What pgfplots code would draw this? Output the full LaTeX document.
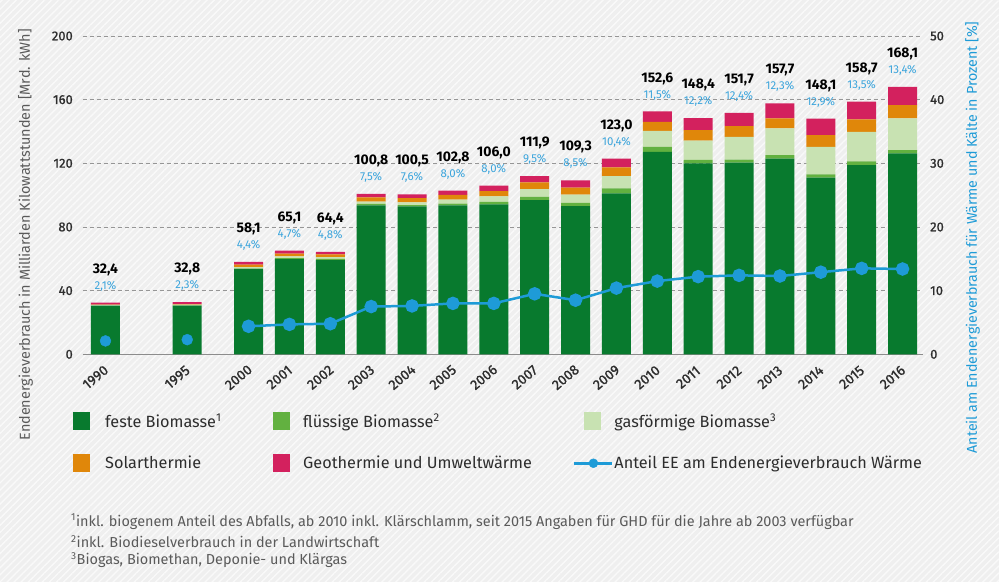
\documentclass[border=0pt]{standalone}
\usepackage{pgfplots}
\pgfplotsset{compat=1.18}
\usepackage{pgfplotstable}
\usetikzlibrary{patterns.meta}
\usepackage{fontspec}
\setmainfont{Fira Sans}
\newfontfamily\medfont[FakeBold=1.2]{Fira Sans}
\definecolor{cFeste}{RGB}{8,122,46}
\definecolor{cFl}{RGB}{98,177,64}
\definecolor{cGas}{RGB}{200,226,178}
\definecolor{cSolar}{RGB}{224,135,10}
\definecolor{cGeo}{RGB}{211,33,94}
\definecolor{cBlue}{RGB}{30,155,215}
\definecolor{cPct}{RGB}{60,165,220}
\definecolor{cBg}{RGB}{239,239,239}
\definecolor{cStripe}{RGB}{249,249,249}
\definecolor{cTxt}{RGB}{45,45,45}
\definecolor{cGrey}{RGB}{90,90,90}

\pgfplotstableread{
x     feste  fl   gas   solar  geo   tot    pct
0     30.6   0.0  0.5   0.1    1.2   32.4   2.1
2     30.6   0.1  0.5   0.3    1.3   32.8   2.3
3.5   53.6   0.3  0.8   1.6    1.8   58.1   4.4
4.5   59.8   0.7  1.0   1.7    1.9   65.1   4.7
5.5   59.1   0.9  1.1   1.7    1.6   64.4   4.8
6.5   93.6   0.9  1.5   2.6    2.2   100.8  7.5
7.5   92.9   0.9  1.7   2.7    2.3   100.5  7.6
8.5   93.6   1.1  2.5   3.0    2.6   102.8  8.0
9.5   94.2   1.5  3.6   3.3    3.4   106.0  8.0
10.5  96.8   2.1  4.9   4.2    3.9   111.9  9.5
11.5  93.1   2.1  5.2   4.4    4.5   109.3  8.5
12.5  101.1  3.2  7.7   5.5    5.5   123.0  10.4
13.5  127.2  3.1  10.1  5.7    6.5   152.6  11.5
14.5  120.0  2.1  12.1  6.7    7.5   148.4  12.2
15.5  120.5  1.9  14.2  6.7    8.4   151.7  12.4
16.5  123.0  2.1  16.8  6.3    9.5   157.7  12.3
17.5  111.0  2.0  17.3  7.4    10.4  148.1  12.9
18.5  118.9  2.3  18.5  7.9    11.1  158.7  13.5
19.5  126.3  2.0  20.0  8.3    11.5  168.1  13.4
}\datatable

\pgfplotsset{
  common/.style={
    scale only axis, width=840bp, height=318.3bp,
    at={(0,0)}, anchor=south west,
    xmin=-0.55, xmax=20,
  },
  sqimg/.style={legend image code/.code={
      \fill[##1] (0bp,-9bp) rectangle (17bp,9bp);
      \path[draw=none, fill=none] (0bp,-10bp) rectangle (32bp,10bp);}},
  sqimgB/.style={legend image code/.code={
      \fill[##1] (0bp,-9bp) rectangle (17bp,9bp);
      \path[draw=none, fill=none] (0bp,-10bp) rectangle (30bp,10bp);}},
  sqimgC/.style={legend image code/.code={
      \fill[##1] (10bp,-9bp) rectangle (27bp,9bp);
      \path[draw=none, fill=none] (0bp,-10bp) rectangle (40bp,10bp);}},
}

\begin{document}
\begin{tikzpicture}
\fill[cBg] (-83bp,-227.7bp) rectangle (916bp,354.3bp);
\fill[pattern={Lines[angle=45, distance=5bp, line width=1.4bp]}, pattern color=cStripe]
  (-83bp,-227.7bp) rectangle (916bp,354.3bp);

% stacked bars (left axis)
\begin{axis}[
  common,
  ymin=0, ymax=200,
  ybar stacked, bar width=0.71,
  axis x line*=bottom, axis y line*=left,
  x axis line style={draw={rgb,255:red,140;green,140;blue,140}, line width=1.5bp},
  y axis line style={draw=none},
  major tick length=0pt,
  xtick={0,2,3.5,4.5,...,19.5},
  xticklabels={1990,1995,2000,2001,2002,2003,2004,2005,2006,2007,2008,2009,2010,2011,2012,2013,2014,2015,2016},
  xticklabel style={xshift=-10bp, yshift=-23bp, rotate=40, anchor=center, font=\medfont\fontsize{14}{14}\selectfont, text=cTxt, inner sep=0pt},
  ytick={0,40,...,200},
  yticklabel style={font=\medfont\fontsize{13}{13}\selectfont, text=cTxt, inner sep=0pt, xshift=-10bp},
  /pgf/number format/assume math mode=true,
  ymajorgrids,
  grid style={dashed, dash pattern=on 4bp off 3bp, draw={rgb,255:red,150;green,150;blue,150}, line width=0.8bp},
  ylabel={Endenergieverbrauch in Milliarden Kilowattstunden [Mrd. kWh]},
  ylabel style={at={(axis description cs:-0.0685,0.375)}, anchor=center, font=\fontsize{14.5}{14.5}\selectfont, text=cGrey},
  legend columns=3,
  legend cell align=left,
  legend style={at={(-0.0119,-0.1783)}, anchor=north west, draw=none, fill=none, inner sep=0pt, column sep=0pt, row sep=22bp,
    font=\fontsize{16.3}{16.3}\selectfont, text=cTxt, nodes={inner sep=0pt}},
]
\addplot[fill=cFeste, draw=none, sqimg] table[x=x, y=feste] {\datatable};
\addlegendentry{\makebox[168bp][l]{feste Biomasse\textsuperscript{1}}}
\addplot[fill=cFl, draw=none, sqimgB] table[x=x, y=fl] {\datatable};
\addlegendentry{\makebox[270bp][l]{flüssige Biomasse\textsuperscript{2}}}
\addplot[fill=cGas, draw=none, sqimgC] table[x=x, y=gas] {\datatable};
\addlegendentry{gasförmige Biomasse\textsuperscript{3}}
\addplot[fill=cSolar, draw=none, sqimg] table[x=x, y=solar] {\datatable};
\addlegendentry{\makebox[168bp][l]{Solarthermie}}
\addplot[fill=cGeo, draw=none, sqimgB] table[x=x, y=geo] {\datatable};
\addlegendentry{\makebox[270bp][l]{Geothermie und Umweltwärme}}
\addlegendimage{legend image code/.code={
   \draw[cBlue, line width=2.5bp] (0bp,0bp) -- (38bp,0bp);
   \fill[cBlue] (19bp,0bp) circle (4.5bp);
   \path[draw=none, fill=none] (0bp,-10bp) rectangle (40bp,10bp);}}
\addlegendentry{Anteil EE am Endenergieverbrauch Wärme}
\end{axis}

% labels above bars
\begin{axis}[
  common, ymin=0, ymax=200, hide axis, clip=false,
  /pgf/number format/assume math mode=true,
]
\addplot[only marks, mark=none, point meta=\thisrow{tot},
  nodes near coords={\pgfmathprintnumber[fixed, fixed zerofill, precision=1, use comma, assume math mode=true]{\pgfplotspointmeta}},
  every node near coord/.style={anchor=center, yshift=33bp, font=\bfseries\fontsize{14}{14}\selectfont, text=black, inner sep=0pt}]
  table[x=x, y=tot] {\datatable};
\addplot[only marks, mark=none, point meta=\thisrow{pct},
  nodes near coords={\pgfmathprintnumber[fixed, fixed zerofill, precision=1, use comma, assume math mode=true]{\pgfplotspointmeta}\%},
  every node near coord/.style={anchor=center, yshift=16.5bp, font=\fontsize{11.5}{11.5}\selectfont, text=cPct, inner sep=0pt}]
  table[x=x, y=tot] {\datatable};
\end{axis}

% percent line (right axis)
\begin{axis}[
  common, ymin=0, ymax=50,
  axis x line=none, axis y line*=right,
  y axis line style={draw=none},
  major tick length=0pt,
  ytick={0,10,...,50},
  yticklabel style={font=\medfont\fontsize{13}{13}\selectfont, text=cTxt, inner sep=0pt, xshift=7bp},
  /pgf/number format/assume math mode=true,
  ylabel={Anteil am Endenergieverbrauch für Wärme und Kälte in Prozent [\%]},
  ylabel style={at={(axis description cs:1.0589,0.367)}, anchor=center, rotate=0, font=\fontsize{14.3}{14.3}\selectfont, text=cBlue},
]
\addplot[only marks, mark=*, mark size=5.5bp, color=cBlue, skip coords between index={2}{19}]
  table[x=x, y=pct] {\datatable};
\addplot[cBlue, line width=2.5bp, mark=*, mark size=5.5bp, skip coords between index={0}{2}]
  table[x=x, y=pct] {\datatable};
\end{axis}

% footnotes
\node[anchor=west, inner sep=0pt, font=\fontsize{14.5}{14.5}\selectfont, text=cGrey] at (-12bp,-167.4bp)
  {\textsuperscript{1}inkl. biogenem Anteil des Abfalls, ab 2010 inkl. Klärschlamm, seit 2015 Angaben für GHD für die Jahre ab 2003 verfügbar};
\node[anchor=west, inner sep=0pt, font=\fontsize{14.5}{14.5}\selectfont, text=cGrey] at (-12bp,-187.4bp)
  {\textsuperscript{2}inkl. Biodieselverbrauch in der Landwirtschaft};
\node[anchor=west, inner sep=0pt, font=\fontsize{14.5}{14.5}\selectfont, text=cGrey] at (-12bp,-205.7bp)
  {\textsuperscript{3}Biogas, Biomethan, Deponie- und Klärgas};

\pgfresetboundingbox
\useasboundingbox (-83bp,-227.7bp) rectangle (916bp,354.3bp);
\end{tikzpicture}
\end{document}
